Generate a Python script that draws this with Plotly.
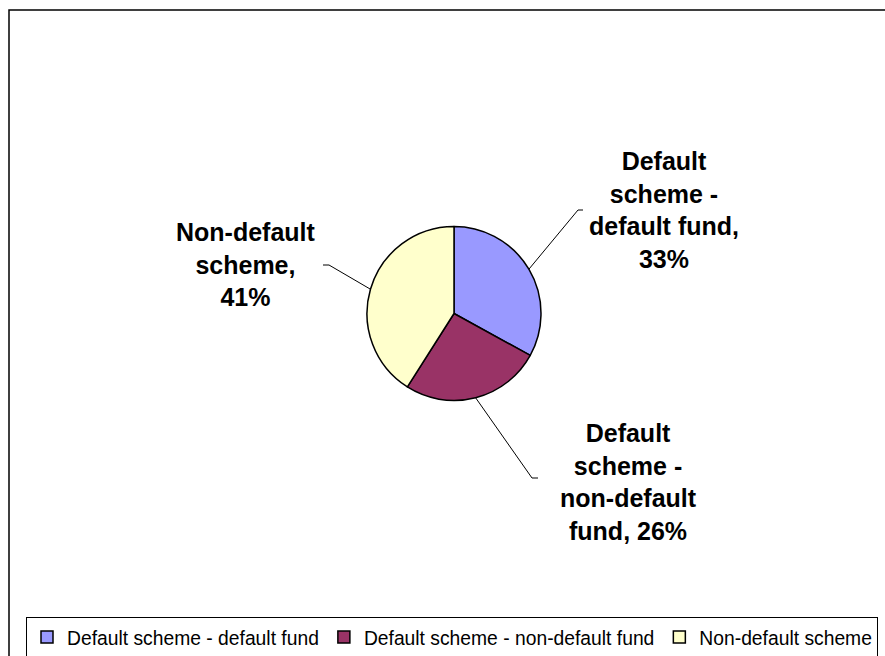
import math
import plotly.graph_objects as go

# Share of members by scheme / fund type
categories = [
    "Default scheme - default fund",
    "Default scheme - non-default fund",
    "Non-default scheme",
]
shares = [33, 26, 41]
colors = ["#9999FF", "#993366", "#FFFFCC"]

# Wrapped label text and the separator placed before the percentage
label_wrapped = [
    "Default<br>scheme -<br>default fund",
    "Default<br>scheme -<br>non-default<br>fund",
    "Non-default<br>scheme",
]
label_sep = [",<br>", ", ", ",<br>"]

W, H = 885, 656
FONT = "Liberation Sans, Arial, sans-serif"

# Pie geometry in pixels
cx, cy, r = 454, 313.5, 87

# Label block centres and leader-line elbows (pixels)
label_pos = [(664, 210), (628, 482), (246, 264)]
elbows = [((578, 210), (583, 210)), ((532, 478), (538, 478)), ((329, 265), (323, 265))]


def px(x):
    return x / W


def py(y):
    return 1 - y / H


fig = go.Figure(
    go.Pie(
        labels=categories,
        values=shares,
        sort=False,
        direction="clockwise",
        rotation=0,
        marker=dict(colors=colors, line=dict(color="black", width=1.5)),
        textinfo="none",
        hoverinfo="label+percent",
        domain=dict(x=[px(cx - r), px(cx + r)], y=[py(cy + r), py(cy - r)]),
    )
)

shapes = []
annotations = []
total = sum(shares)
cum = 0
for i, v in enumerate(shares):
    mid = (cum + v / 2) / total * 2 * math.pi
    cum += v
    ex, ey = cx + r * math.sin(mid), cy - r * math.cos(mid)
    (bx, by), (tx, ty) = elbows[i]
    path = f"M {px(ex)},{py(ey)} L {px(bx)},{py(by)} L {px(tx)},{py(ty)}"
    shapes.append(dict(type="path", xref="paper", yref="paper", path=path,
                       line=dict(color="black", width=1)))
    lx, ly = label_pos[i]
    annotations.append(dict(
        x=px(lx), y=py(ly), xref="paper", yref="paper",
        xanchor="center", yanchor="middle", showarrow=False, align="center",
        text=f"<b>{label_wrapped[i]}{label_sep[i]}{v}%</b>",
        font=dict(family=FONT, size=25, color="black"),
    ))

# Outer chart frame
shapes.append(dict(type="rect", xref="paper", yref="paper",
                   x0=px(9), y0=py(H + 20), x1=px(W + 20), y1=py(10),
                   line=dict(color="black", width=1.5), layer="below"))

fig.update_layout(
    width=W, height=H,
    margin=dict(l=0, r=0, t=0, b=0, autoexpand=False),
    paper_bgcolor="white",
    plot_bgcolor="white",
    shapes=shapes,
    annotations=annotations,
    showlegend=True,
    legend=dict(
        orientation="h",
        x=px(26), xanchor="left",
        y=py(617), yanchor="top",
        bordercolor="black", borderwidth=1,
        font=dict(family=FONT, size=19.3, color="black"),
        itemwidth=30,
        traceorder="normal",
    ),
)

fig.write_html("out.html")
